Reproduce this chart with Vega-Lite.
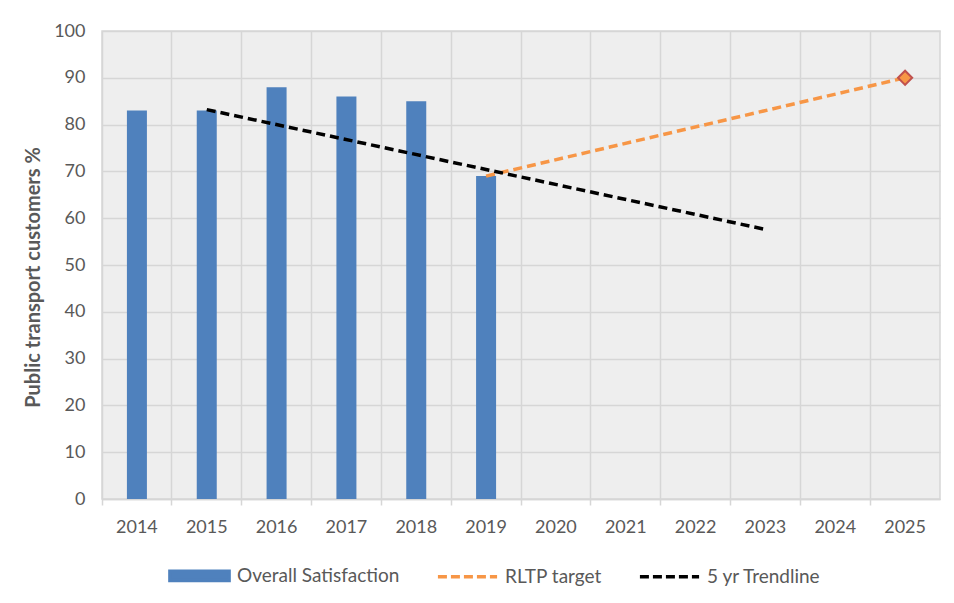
{
  "$schema": "https://vega.github.io/schema/vega-lite/v6.json",
  "width": 838,
  "height": 468,
  "autosize": {"type": "none"},
  "padding": {"left": 102, "top": 31, "right": 14, "bottom": 104},
  "background": "white",
  "config": {
    "font": "Lato",
    "view": {"fill": "#eeeeee", "stroke": "#d6d6d6", "strokeWidth": 1.5},
    "axis": {"labelFont": "Lato", "titleFont": "Lato", "labelColor": "#595959", "titleColor": "#595959"}
  },
  "datasets": {
    "bars": [
      {"year": "2014", "value": 83, "series": "Overall Satisfaction"},
      {"year": "2015", "value": 83, "series": "Overall Satisfaction"},
      {"year": "2016", "value": 88, "series": "Overall Satisfaction"},
      {"year": "2017", "value": 86, "series": "Overall Satisfaction"},
      {"year": "2018", "value": 85, "series": "Overall Satisfaction"},
      {"year": "2019", "value": 69, "series": "Overall Satisfaction"}
    ],
    "target": [
      {"year": "2019", "value": 69, "series": "RLTP target"},
      {"year": "2025", "value": 90, "series": "RLTP target"}
    ],
    "trend": [
      {"year": "2015", "value": 83.2, "series": "5 yr Trendline"},
      {"year": "2023", "value": 57.6, "series": "5 yr Trendline"}
    ]
  },
  "encoding": {
    "x": {
      "field": "year", "type": "ordinal",
      "scale": {"domain": ["2014","2015","2016","2017","2018","2019","2020","2021","2022","2023","2024","2025"], "paddingInner": 0, "paddingOuter": 0},
      "axis": {
        "title": null, "labelAngle": 0, "bandPosition": 0, "labelOffset": 0,
        "labelFontSize": 18, "labelPadding": 13,
        "grid": true, "gridColor": "#d6d6d6", "gridWidth": 1.5,
        "domainColor": "#d6d6d6", "domainWidth": 1.5,
        "tickColor": "#d6d6d6", "tickSize": 6, "tickWidth": 1.5
      }
    },
    "y": {
      "field": "value", "type": "quantitative",
      "scale": {"domain": [0, 100], "nice": false},
      "axis": {
        "title": "Public transport customers %", "titleFontSize": 20, "titleFontWeight": "bold", "titlePadding": 10,
        "titleY": 246,
        "values": [0,10,20,30,40,50,60,70,80,90,100],
        "labelFontSize": 18, "labelPadding": 17,
        "domain": false, "ticks": false,
        "grid": true, "gridColor": "#d6d6d6", "gridWidth": 1.5
      }
    },
    "color": {
      "field": "series", "type": "nominal",
      "scale": {"domain": ["Overall Satisfaction", "RLTP target", "5 yr Trendline"], "range": ["#4f81bd", "#f79646", "#000000"]},
      "legend": {
        "title": null, "orient": "none", "direction": "horizontal",
        "legendX": 66, "legendY": 513,
        "labelFont": "Lato", "labelFontSize": 19, "labelColor": "#595959", "labelLimit": 400,
        "labelOffset": 6, "columnPadding": 30, "symbolSize": 3500,
        "encode": {
          "symbols": {
            "update": {
              "shape": {"signal": "datum.value === 'Overall Satisfaction' ? 'M-1,-0.16H1V0.16H-1Z' : 'stroke'"},
              "fill": {"signal": "datum.value === 'Overall Satisfaction' ? '#4f81bd' : 'transparent'"},
              "stroke": {"signal": "datum.value === 'Overall Satisfaction' ? 'transparent' : (datum.value === 'RLTP target' ? '#f79646' : '#000000')"},
              "strokeWidth": {"value": 3.5},
              "strokeDash": {"signal": "datum.value === 'Overall Satisfaction' ? [] : [9, 4]"},
              "opacity": {"value": 1}
            }
          }
        }
      }
    }
  },
  "layer": [
    {
      "data": {"name": "bars"},
      "mark": {"type": "bar", "width": 20, "opacity": 1}
    },
    {
      "data": {"name": "target"},
      "mark": {"type": "line", "strokeWidth": 3.5, "strokeDash": [9, 5]}
    },
    {
      "data": {"name": "trend"},
      "mark": {"type": "line", "strokeWidth": 3.5, "strokeDash": [9, 5]}
    },
    {
      "data": {"name": "target"},
      "transform": [{"filter": "datum.year === '2025'"}],
      "mark": {"type": "point", "shape": "diamond", "size": 200, "filled": true, "fill": "#f79646", "stroke": "#c0504d", "strokeWidth": 2, "opacity": 1},
      "encoding": {"color": {"value": "#f79646"}}
    }
  ]
}
